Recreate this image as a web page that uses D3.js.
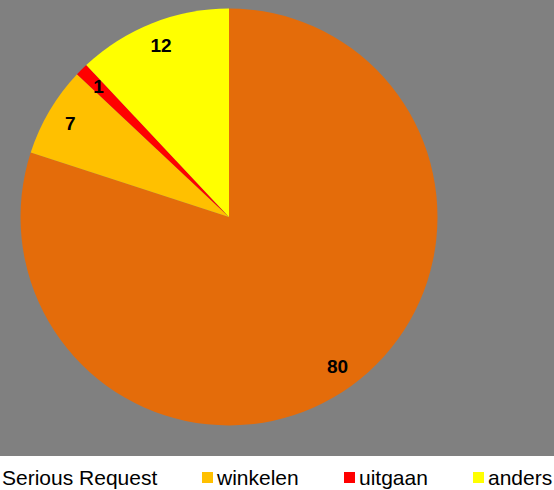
<!DOCTYPE html>
<html>
<head>
<meta charset="utf-8">
<script src="https://cdn.jsdelivr.net/npm/d3@7"></script>
<style>
  body { margin: 0; background: #fff; }
  text { font-family: "Liberation Sans", Arial, sans-serif; }
</style>
</head>
<body>
<script>
// data
var categories = ['Serious Request', 'winkelen', 'uitgaan', 'anders'];
var values = [80, 7, 1, 12];
var colors = ['#E46C0A', '#FFC000', '#FF0000', '#FFFF00'];

var width = 554;
var height = 490;
var plotHeight = 456;
var cx = 229;
var cy = 217;
var radius = 208.5;

var svg = d3.select('body').append('svg')
  .attr('width', width)
  .attr('height', height);

svg.append('rect')
  .attr('width', width)
  .attr('height', plotHeight)
  .attr('fill', '#808080');

var pieGenerator = d3.pie()
  .sort(null)
  .value(function (d) { return d; });

var arcGenerator = d3.arc()
  .innerRadius(0)
  .outerRadius(radius);

// labels sit near the rim
var labelArc = d3.arc()
  .innerRadius(radius * 0.885)
  .outerRadius(radius * 0.885);

var pie = svg.append('g')
  .attr('transform', 'translate(' + cx + ',' + cy + ')');

var slices = pie.selectAll('.arc')
  .data(pieGenerator(values))
  .enter().append('g')
  .attr('class', 'arc');

slices.append('path')
  .attr('d', arcGenerator)
  .attr('fill', function (d, i) { return colors[i]; });

slices.append('text')
  .attr('transform', function (d) { return 'translate(' + labelArc.centroid(d) + ')'; })
  .attr('text-anchor', 'middle')
  .attr('dy', '0.36em')
  .attr('font-size', 19)
  .attr('font-weight', 'bold')
  .attr('fill', '#000')
  .text(function (d) { return d.data; });

// legend (first entry has no swatch)
var boxPos = [2, 202, 344, 473];

var legend = svg.append('g');

var items = legend.selectAll('.legend-item')
  .data(categories)
  .enter().append('g')
  .attr('class', 'legend-item')
  .attr('transform', function (d, i) { return 'translate(' + boxPos[i] + ',0)'; });

items.filter(function (d, i) { return i > 0; })
  .append('rect')
  .attr('x', 0)
  .attr('y', 472)
  .attr('width', 11)
  .attr('height', 11)
  .attr('fill', function (d) { return colors[categories.indexOf(d)]; });

items.append('text')
  .attr('x', function (d, i) { return i === 0 ? 0 : 15; })
  .attr('y', 485)
  .attr('font-size', 21)
  .attr('fill', '#000')
  .text(function (d) { return d; });
</script>
</body>
</html>
